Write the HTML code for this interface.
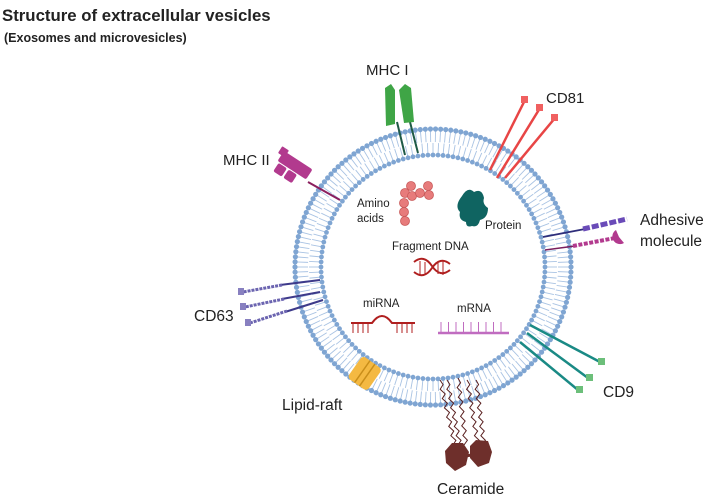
<!DOCTYPE html>
<html><head><meta charset="utf-8"><style>
html,body{margin:0;padding:0;background:#fff;width:709px;height:500px;overflow:hidden}
svg{display:block}
text{font-family:"Liberation Sans",sans-serif;fill:#222}
</style></head><body>
<svg id="s" width="709" height="500" viewBox="0 0 709 500" xmlns="http://www.w3.org/2000/svg">
<text x="2" y="21" font-size="16.8" font-weight="bold">Structure of extracellular vesicles</text>
<text x="4" y="42" font-size="12.5" font-weight="bold">(Exosomes and microvesicles)</text>
<g id="mem"></g>
<!-- MHC I -->
<g>
<line x1="397" y1="122" x2="405" y2="155" stroke="#1f5a46" stroke-width="2"/>
<line x1="410" y1="122" x2="418" y2="153" stroke="#1f5a46" stroke-width="2"/>
<path d="M385 88 l6 -4 l4 6 l0 34 l-9 2 z" fill="#3fa546"/>
<path d="M399 90 l6 -6 l6 4 l3 34 l-10 1 z" fill="#3fa546"/>
</g>
<text x="366" y="75" font-size="15">MHC I</text>
<!-- CD81 -->
<g stroke="#e84545" stroke-width="2.5">
<line x1="490" y1="170" x2="525" y2="100"/>
<line x1="497" y1="178" x2="540" y2="108"/>
<line x1="505" y1="178" x2="555" y2="118"/>
</g>
<g fill="#f06060"><rect x="521" y="96" width="7" height="7"/><rect x="536" y="104" width="7" height="7"/><rect x="551" y="114" width="7" height="7"/></g>
<text x="546" y="103" font-size="15">CD81</text>
<!-- MHC II -->
<line x1="308" y1="182" x2="340" y2="200" stroke="#8b1f5e" stroke-width="2"/>
<g transform="rotate(33 292 168)" fill="#b23a8e">
<rect x="276" y="158" width="34" height="12" rx="2"/>
<rect x="272" y="155" width="8" height="8" rx="1"/>
<rect x="278" y="171" width="10" height="10" rx="2"/>
<rect x="290" y="171" width="10" height="10" rx="2"/>
</g>
<text x="223" y="165" font-size="15">MHC II</text>
<!-- Adhesive -->
<line x1="543" y1="237" x2="585" y2="229" stroke="#2e2e7a" stroke-width="1.8"/>
<path d="M583 229 L627 219" stroke="#6a4bb8" stroke-width="5" stroke-dasharray="7 2"/>
<line x1="545" y1="250" x2="575" y2="246" stroke="#7a1f5e" stroke-width="1.5"/>
<path d="M573 246 L615 238" stroke="#b23a8e" stroke-width="4" stroke-dasharray="4 1.5"/>
<path d="M616 230 a7 7 0 1 0 8 13 l-5 -6 z" fill="#b23a8e"/>
<text x="640" y="225" font-size="15.5">Adhesive</text>
<text x="640" y="246" font-size="15.5">molecule</text>
<!-- CD63 -->
<g stroke="#3d3a8a" stroke-width="2"><line x1="320" y1="280" x2="280" y2="285"/><line x1="320" y1="292" x2="282" y2="299"/><line x1="323" y1="300" x2="285" y2="312"/></g>
<g stroke="#6b64b0" stroke-width="3" stroke-dasharray="3 1"><line x1="282" y1="285" x2="243" y2="292"/><line x1="284" y1="299" x2="245" y2="307"/><line x1="287" y1="311" x2="250" y2="323"/></g>
<g fill="#8880c0"><rect x="238" y="288" width="6" height="7"/><rect x="240" y="303" width="6" height="7"/><rect x="245" y="319" width="6" height="7"/></g>
<text x="194" y="321" font-size="15.5">CD63</text>
<!-- Lipid raft -->
<g transform="rotate(35 365 373)"><rect x="353" y="360" width="24" height="27" rx="4" fill="#f4b942"/><line x1="362" y1="360" x2="362" y2="387" stroke="#c98e1a" stroke-width="1.5"/><line x1="368" y1="360" x2="368" y2="387" stroke="#c98e1a" stroke-width="1.5"/></g>
<text x="282" y="410" font-size="15.5">Lipid-raft</text>
<!-- CD9 -->
<g stroke="#1a8a85" stroke-width="2.5"><line x1="530" y1="325" x2="600" y2="362"/><line x1="527" y1="333" x2="588" y2="378"/><line x1="520" y1="342" x2="578" y2="390"/></g>
<g fill="#6cbf7a"><rect x="598" y="358" width="7" height="7"/><rect x="586" y="374" width="7" height="7"/><rect x="576" y="386" width="7" height="7"/></g>
<text x="603" y="397" font-size="15.5">CD9</text>
<!-- Ceramide -->
<g fill="none" stroke="#5a2020" stroke-width="1" id="cer"></g>
<polygon points="452,443 463,443 469,452 466,465 455,471 446,463 445,451" fill="#6e2f2b"/>
<polygon points="476,440 488,441 492,452 489,463 478,467 470,458 470,446" fill="#6e2f2b"/>
<line x1="465" y1="456" x2="472" y2="455" stroke="#6e2f2b" stroke-width="3"/>
<text x="437" y="494" font-size="15.5">Ceramide</text>
<!-- inner -->
<g fill="#e77b7b" stroke="#c95a5a" stroke-width="0.8">
<circle cx="411" cy="186" r="4.5"/><circle cx="405" cy="193" r="4.5"/><circle cx="412" cy="196" r="4.5"/><circle cx="420" cy="193" r="4.5"/><circle cx="428" cy="186" r="4.5"/><circle cx="429" cy="195" r="4.5"/><circle cx="404" cy="203" r="4.5"/><circle cx="404" cy="212" r="4.5"/><circle cx="405" cy="221" r="4.5"/>
</g>
<text x="357" y="207" font-size="11.5">Amino</text>
<text x="357" y="222" font-size="11.5">acids</text>
<path d="M462 196 q6 -10 12 -4 q8 -4 10 6 q-2 6 4 10 q0 10 -8 12 q-2 8 -8 6 q-6 2 -6 -4 q-8 -2 -6 -10 q-6 -6 2 -16 z" fill="#0f6461"/>
<text x="485" y="229" font-size="11.5">Protein</text>
<text x="392" y="250" font-size="11.5">Fragment DNA</text>
<path d="M414 262 q10 -8 18 4 q8 12 18 4 M414 272 q10 8 18 -4 q8 -12 18 -4" fill="none" stroke="#b01f1f" stroke-width="2"/>
<g stroke="#b01f1f" stroke-width="1"><line x1="420" y1="261" x2="420" y2="275"/><line x1="425" y1="262" x2="425" y2="274"/><line x1="438" y1="262" x2="438" y2="274"/><line x1="443" y1="261" x2="443" y2="275"/></g>
<text x="363" y="307" font-size="11.5">miRNA</text>
<path d="M351 323 L372 323 q10 -14 20 0 L415 323" fill="none" stroke="#b01f1f" stroke-width="2"/>
<g stroke="#b01f1f" stroke-width="1"><line x1="353" y1="323" x2="353" y2="333"/><line x1="358" y1="323" x2="358" y2="333"/><line x1="363" y1="323" x2="363" y2="333"/><line x1="368" y1="323" x2="368" y2="333"/><line x1="397" y1="323" x2="397" y2="333"/><line x1="402" y1="323" x2="402" y2="333"/><line x1="407" y1="323" x2="407" y2="333"/><line x1="412" y1="323" x2="412" y2="333"/></g>
<text x="457" y="312" font-size="11.5">mRNA</text>
<line x1="438" y1="333" x2="509" y2="333" stroke="#c06cc0" stroke-width="2.5"/>
<g stroke="#c06cc0" stroke-width="1" id="mr"></g>
</svg>
<script>
var NS="http://www.w3.org/2000/svg",m=document.getElementById('mem'),cx=433,cy=267;
function el(p,t,a){var e=document.createElementNS(NS,t);for(var k in a)e.setAttribute(k,a[k]);p.appendChild(e);return e;}
function ring(R,r2,n){for(var i=0;i<n;i++){var a=2*Math.PI*i/n,c=Math.cos(a),s=Math.sin(a);
el(m,'line',{x1:cx+R*c,y1:cy+R*s,x2:cx+r2*c,y2:cy+r2*s,stroke:'#a9c3e3','stroke-width':0.9});}}
ring(137,125,170);ring(113,124,140);
for(var i=0;i<170;i++){var a=2*Math.PI*i/170;el(m,'circle',{cx:cx+138*Math.cos(a),cy:cy+138*Math.sin(a),r:2.6,fill:'#7fa5d2'});}
for(var i=0;i<140;i++){var a=2*Math.PI*i/140;el(m,'circle',{cx:cx+112*Math.cos(a),cy:cy+112*Math.sin(a),r:2.4,fill:'#7fa5d2'});}
var mr=document.getElementById('mr');for(var x=441;x<=506;x+=7.5)el(mr,'line',{x1:x,y1:322,x2:x,y2:333});
var cer=document.getElementById('cer');[[440,380,455],[447,380,460],[458,378,466],[467,380,478],[476,380,484]].forEach(function(t){
var d='M'+t[0]+' '+t[1];var n=14;for(var k=1;k<=n;k++){var y=t[1]+(445-t[1])*k/n,x=t[0]+(t[2]-t[0])*k/n+(k%2?2:-2);d+=' L'+x+' '+y;}el(cer,'path',{d:d});});
</script>
</body></html>
